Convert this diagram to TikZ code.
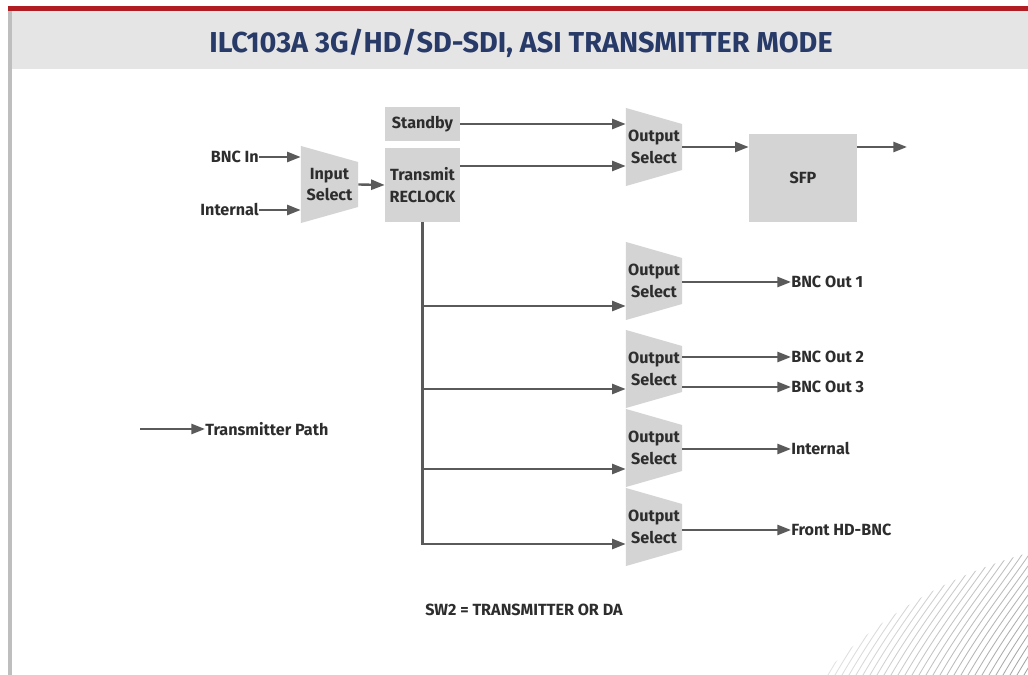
\documentclass[tikz,border=0pt]{standalone}
\usepackage{fontspec}
\setmainfont{Fira Sans}
\usepackage{tikz}
\usetikzlibrary{arrows.meta}
\usetikzlibrary{positioning}
\usetikzlibrary{calc}
\definecolor{barred}{RGB}{176,30,35}
\definecolor{bandgray}{RGB}{229,229,229}
\definecolor{edgegray}{RGB}{190,190,190}
\definecolor{boxgray}{RGB}{212,212,212}
\definecolor{linegray}{RGB}{90,90,90}
\definecolor{textgray}{RGB}{45,45,45}
\definecolor{titleblue}{RGB}{40,58,104}
\tikzstyle{block} = [rectangle, fill=boxgray, text=textgray, align=center, inner sep=0pt]
\tikzstyle{selector} = [rectangle, minimum width=1.4cm, minimum height=1.95cm, text=textgray, align=center, inner sep=0pt,
	path picture={\fill[boxgray] (path picture bounding box.north west) -- ([yshift=-0.4cm]path picture bounding box.north east) -- ([yshift=0.4cm]path picture bounding box.south east) -- (path picture bounding box.south west) -- cycle;}]
\tikzstyle{portlabel} = [text=textgray, inner sep=0pt]
\tikzstyle{signal} = [draw=linegray, line width=1.7pt, -{Triangle[length=3.4mm,width=2.5mm]}]

\begin{document}
\begin{tikzpicture}[x=0.025cm, y=-0.025cm, font=\fontsize{11.5}{15.5}\selectfont\bfseries]
	\useasboundingbox (0,0) rectangle (1028,675);
	\fill[white] (0,0) rectangle (1028,675);
	\fill[bandgray] (8,11) rectangle (1028,69);
	\fill[barred] (8,6) rectangle (1028,11);
	\fill[edgegray] (8,11) rectangle (12,675);
	\node[text=titleblue, font=\fontsize{20.5}{22}\selectfont\bfseries] (Title) at (521,43) {ILC103A 3G/HD/SD-SDI, ASI TRANSMITTER MODE};
	
	% corner lines
	\begin{scope}
		\clip (822,675) .. controls (885,612) and (950,575) .. (1028,553) -- (1028,675) -- cycle;
		\foreach \i in {0,...,36}{
			\pgfmathsetmacro{\fade}{8+\i*0.9}
			\draw[black!\fade, line width=0.6pt] (800+\i*7,675) .. controls +(35,-60) and +(-25,40) .. +(95,-140);
		}
	\end{scope}
	
	\node[block, minimum width=1.875cm, minimum height=0.85cm] (Standby) at (422.5,124) {Standby};
	\node[block, minimum width=1.875cm, minimum height=1.85cm] (Reclock) at (422.5,185) {Transmit\\RECLOCK};
	\node[block, minimum width=2.7cm, minimum height=2.2cm] (SFP) at (803,178) {SFP};
	
	\node[selector, minimum width=1.425cm, minimum height=1.925cm] (Sel-In) at (329.5,184.5) {Input\\Select};
	\node[selector] (Out-Sel-0) at (654,147) {Output\\Select};
	\node[selector] (Out-Sel-1) at (654,281) {Output\\Select};
	\node[selector] (Out-Sel-2) at (654,369) {Output\\Select};
	\node[selector] (Out-Sel-3) at (654,448) {Output\\Select};
	\node[selector] (Out-Sel-4) at (654,527) {Output\\Select};
	
	\node[portlabel, anchor=east] (Bnc-In) at (259,157) {BNC In};
	\node[portlabel, anchor=east] (Int-In) at (259,210) {Internal};
	\node[portlabel, anchor=west] (Bnc-Out-1) at (791,282) {BNC Out 1};
	\node[portlabel, anchor=west] (Bnc-Out-2) at (791,357) {BNC Out 2};
	\node[portlabel, anchor=west] (Bnc-Out-3) at (791,387) {BNC Out 3};
	\node[portlabel, anchor=west] (Int-Out) at (791,449) {Internal};
	\node[portlabel, anchor=west] (Front-Out) at (791,530) {Front HD-BNC};
	\node[portlabel, anchor=west] (Legend) at (205,429) {Transmitter Path};
	\node[portlabel] (Note) at (524,610) {SW2 = TRANSMITTER OR DA};
	\coordinate (Legend-Start) at (140,429);
	\coordinate (SFP-Out) at (907,147);
	
	\coordinate (Tap-1) at ([yshift=-0.625cm]Out-Sel-1.west);
	\coordinate (Tap-2) at ([yshift=-0.5cm]Out-Sel-2.west);
	\coordinate (Tap-3) at ([yshift=-0.525cm]Out-Sel-3.west);
	\coordinate (Tap-4) at ([yshift=-0.425cm]Out-Sel-4.west);
	
	\draw[signal] (Bnc-In.east) -- (Bnc-In.east -| Sel-In.west);
	\draw[signal] (Int-In.east) -- (Int-In.east -| Sel-In.west);
	\draw[signal] (Sel-In.east) -- (Reclock.west);
	\draw[signal] (Standby.east) -- (Standby.east -| Out-Sel-0.west);
	\draw[signal] ([yshift=0.475cm]Reclock.east) -- ([yshift=0.475cm]Reclock.east -| Out-Sel-0.west);
	\draw[signal] (Out-Sel-0.east) -- (Out-Sel-0.east -| SFP.west);
	\draw[signal] (SFP.east |- Out-Sel-0.east) -- (SFP-Out);
	
	\draw[signal] (Reclock.south) |- (Tap-4);
	\draw[signal] (Reclock.south |- Tap-1) -- (Tap-1);
	\draw[signal] (Reclock.south |- Tap-2) -- (Tap-2);
	\draw[signal] (Reclock.south |- Tap-3) -- (Tap-3);
	
	\draw[signal] (Bnc-Out-1.west -| Out-Sel-1.east) -- (Bnc-Out-1.west);
	\draw[signal] (Bnc-Out-2.west -| Out-Sel-2.east) -- (Bnc-Out-2.west);
	\draw[signal] (Bnc-Out-3.west -| Out-Sel-2.east) -- (Bnc-Out-3.west);
	\draw[signal] (Int-Out.west -| Out-Sel-3.east) -- (Int-Out.west);
	\draw[signal] (Front-Out.west -| Out-Sel-4.east) -- (Front-Out.west);
	
	\draw[signal] (Legend-Start) -- (Legend.west);
\end{tikzpicture}
\end{document}
